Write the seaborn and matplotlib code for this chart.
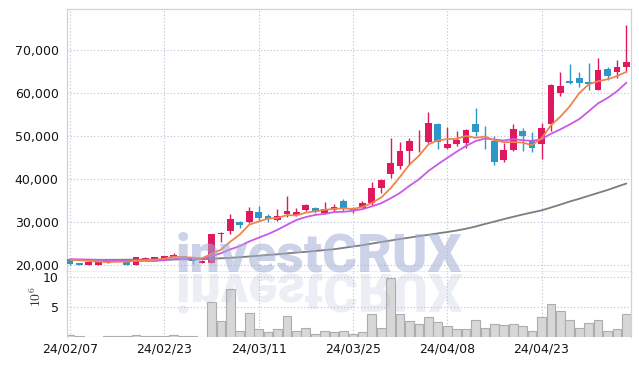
import numpy as np
import pandas as pd
import matplotlib
matplotlib.use("Agg")
import matplotlib.pyplot as plt
import seaborn as sns
from matplotlib.textpath import TextPath
from matplotlib.patches import PathPatch
from matplotlib.font_manager import FontProperties
import matplotlib.transforms as mtransforms

# ---------------- data ----------------
opens = [21500, 20400, 20000, 20000, 20600, 21450, 20750, 20000, 21100, 21300,
         21550, 21800, 22100, 21450, 20550, 20500, 27150, 28000, 29900, 30000,
         32330, 31300, 30580, 31860, 31600, 32800, 33300, 32200, 32800, 35000,
         32800, 33200, 34500, 37800, 41200, 43000, 46400, 47800, 48600, 52700,
         47200, 48050, 48300, 52800, 50100, 48800, 44400, 46800, 51200, 49000,
         48100, 52900, 60000, 62800, 63600, 62500, 60800, 65600, 65000, 66000]
closes = [20200, 20000, 20800, 20800, 21450, 20770, 20100, 21800, 21550, 21800,
          22100, 22330, 21350, 21000, 21000, 27200, 27300, 30700, 29200, 32500,
          30860, 30800, 31300, 32500, 32300, 34000, 32300, 33100, 33500, 33000,
          33300, 34500, 37900, 39770, 43800, 46600, 48800, 48000, 53000, 48500,
          48100, 49070, 51400, 50860, 49900, 44000, 46700, 51550, 50100, 47150,
          51800, 61800, 61600, 62300, 62300, 62100, 65400, 63900, 66000, 67200]
highs = [21600, 20500, 20850, 20850, 21500, 21500, 20800, 21850, 21900, 21900,
         22200, 22860, 22200, 21500, 21100, 27300, 27600, 31800, 30300, 33570,
         33720, 31800, 33000, 36000, 33300, 34100, 33400, 34650, 34100, 35400,
         33600, 34800, 39300, 40100, 49470, 48500, 49600, 51400, 55500, 53100,
         52000, 51100, 51600, 56500, 52300, 49900, 48300, 52700, 51800, 50900,
         53000, 62000, 64800, 66700, 64800, 67000, 68100, 66000, 67600, 75800]
lows = [20100, 19900, 19950, 19950, 20550, 20700, 20000, 19950, 21050, 21250,
        21500, 21750, 21300, 20300, 20500, 20400, 25400, 27200, 28700, 29770,
        30300, 30000, 30300, 31200, 31400, 32600, 32000, 31900, 32400, 32600,
        32200, 33000, 34000, 36700, 40230, 42300, 43200, 46200, 48300, 47000,
        47000, 47700, 47150, 50000, 47000, 43300, 43900, 46500, 46400, 46300,
        44700, 51200, 59400, 62100, 61300, 60700, 60700, 63000, 63600, 64800]
ma5 = [21250, 21100, 20950, 20800, 20650, 20764, 20784, 20984, 21134, 21204,
       21470, 21916, 21826, 21716, 21556, 22576, 23570, 25440, 27080, 29380,
       30112, 30812, 30932, 31592, 31552, 32180, 32480, 32840, 33040, 33180,
       33040, 33480, 34440, 35694, 37854, 40514, 43374, 45394, 48040, 48980,
       49280, 49334, 50014, 49586, 49866, 49046, 48572, 48602, 48450, 47900,
       49460, 52480, 54490, 56930, 59960, 62020, 62740, 63200, 63940, 64920]
ma10 = [21350, 21300, 21250, 21200, 21150, 21100, 21050, 21000, 20950, 20927,
        21117, 21350, 21405, 21425, 21380, 22023, 22743, 23633, 24398, 25468,
        26344, 27191, 28186, 29336, 30466, 31146, 31646, 31886, 32316, 32366,
        32610, 32980, 33640, 34367, 35517, 36777, 38427, 39917, 41867, 43417,
        44897, 46354, 47704, 48813, 49423, 49163, 48953, 49308, 49018, 48883,
        49253, 50526, 51546, 52690, 53930, 55740, 57610, 58845, 60395, 62400]
ma60 = [21200, 21200, 21205, 21210, 21215, 21220, 21225, 21230, 21240, 21250,
        21260, 21280, 21300, 21330, 21370, 21440, 21560, 21670, 21810, 21980,
        22160, 22330, 22490, 22700, 22880, 23070, 23260, 23470, 23670, 23980,
        24300, 24600, 24980, 25350, 25700, 26050, 26370, 26720, 27020, 27350,
        27670, 28020, 28440, 28950, 29540, 30090, 30670, 31210, 31740, 32230,
        32700, 33370, 34050, 34770, 35400, 36090, 36770, 37440, 38210, 38950]
volume_m = [0.33, 0.22, 0.08, 0.05, 0.17, 0.17, 0.17, 0.28, 0.17, 0.17,
            0.17, 0.33, 0.22, 0.17, 0.08, 5.78, 2.6, 8.0, 0.94, 3.94,
            1.28, 0.83, 1.28, 3.56, 0.94, 1.44, 0.44, 0.94, 0.83, 1.0,
            0.5, 0.83, 3.83, 1.5, 9.83, 3.83, 2.6, 2.17, 3.33, 2.5,
            1.78, 1.33, 1.33, 2.83, 1.5, 2.17, 2.0, 2.17, 1.78, 1.0,
            3.33, 5.5, 4.28, 2.78, 1.5, 2.33, 2.78, 1.0, 1.33, 3.83]
tick_positions = [0, 10, 20, 30, 40, 50]
tick_labels = ["24/02/07", "24/02/23", "24/03/11", "24/03/25", "24/04/08", "24/04/23"]
price_ticks = [20000, 30000, 40000, 50000, 60000, 70000]
volume_ticks = [5, 10]
watermark = "investCRUX"

df = pd.DataFrame({"idx": np.arange(len(opens)), "open": opens, "close": closes,
                   "high": highs, "low": lows, "ma5": ma5, "ma10": ma10,
                   "ma60": ma60, "vol": volume_m})

# ---------------- style ----------------
sns.set_theme(style="white")
plt.rcParams["font.family"] = ["DejaVu Sans"]
plt.rcParams["mathtext.fontset"] = "cm"

RED = "#e0185f"
BLUE = "#3096c8"
GRID = "#b9c0d8"

W, H = 639, 366
fig = plt.figure(figsize=(W / 100, H / 100), dpi=100)
ax = fig.add_axes([67 / W, 1 - 272 / H, (631 - 67) / W, (272 - 9) / H])
axv = fig.add_axes([67 / W, 1 - 337 / H, (631 - 67) / W, (337 - 272) / H], sharex=ax)

up = df["close"] >= df["open"]
cols = np.where(up, RED, BLUE)
body_bottom = np.minimum(df["open"], df["close"])
body_h = np.maximum(np.abs(df["close"] - df["open"]), 180)

ax.vlines(df["idx"], df["low"], df["high"], colors=cols, lw=1.0, zorder=2)
ax.bar(df["idx"], body_h, bottom=body_bottom, width=0.72, color=cols,
       linewidth=0, zorder=3)

sns.lineplot(data=df, x="idx", y="ma60", ax=ax, color="#7d7d7d", linewidth=1.3, zorder=4)
sns.lineplot(data=df, x="idx", y="ma10", ax=ax, color="#c95ae8", linewidth=1.3, zorder=4)
sns.lineplot(data=df, x="idx", y="ma5", ax=ax, color="#f0844a", linewidth=1.3, zorder=5)

sns.barplot(data=df, x="idx", y="vol", ax=axv, native_scale=True, color="#d7d7d7",
            saturation=1, edgecolor="#adadad", linewidth=0.8, width=0.92, zorder=2)

# ---------------- axes ----------------
ax.set_xlim(-0.32, 59.49)
ax.set_ylim(18372, 79540)
axv.set_ylim(0, 10.83)

for a in (ax, axv):
    a.set_xticks(tick_positions)
    a.grid(True, linestyle=(0, (1, 2)), color=GRID, linewidth=0.8, zorder=0)
    a.set_axisbelow(True)
    a.set_xlabel("")
    a.set_ylabel("")
    a.tick_params(length=0, labelsize=9, labelcolor="#151515", pad=6)

ax.set_yticks(price_ticks)
ax.set_yticklabels([f"{v:,}" for v in price_ticks])
ax.tick_params(axis="x", labelbottom=False)

axv.set_yticks(volume_ticks)
axv.set_yticklabels([str(v) for v in volume_ticks])
axv.set_xticklabels(tick_labels)
axv.tick_params(axis="x", pad=4)
axv.set_ylabel(r"$10^6$", fontsize=10, color="#333333", rotation=90)
axv.yaxis.set_label_coords(-0.04, 0.62)

for s in ("top", "left", "right"):
    ax.spines[s].set_color("#d2d2d2")
    ax.spines[s].set_linewidth(0.9)
ax.spines["bottom"].set_color("#b5b5b5")
ax.spines["bottom"].set_linewidth(1.0)
for s in ("left", "right"):
    axv.spines[s].set_color("#d2d2d2")
    axv.spines[s].set_linewidth(0.9)
axv.spines["top"].set_visible(False)
axv.spines["bottom"].set_visible(False)

# ---------------- watermark ----------------
fp = FontProperties(family=["Roboto", "DejaVu Sans"], weight="black", size=38.4)
left_px, base_px = 176, 272
fig.text(left_px / W, 1 - base_px / H, watermark, fontproperties=fp,
         ha="left", va="baseline", color="#a3aed6", alpha=0.55, zorder=10)
tp = TextPath((0, 0), watermark, prop=fp)
tr = mtransforms.Affine2D().scale(100 / 72, -100 / 72).translate(left_px, H - base_px - 2)
refl = PathPatch(tp, transform=tr, facecolor="#a3aed6", edgecolor="none",
                 alpha=0.2, zorder=10)
fig.add_artist(refl)

fig.savefig("out.png", dpi=100)
